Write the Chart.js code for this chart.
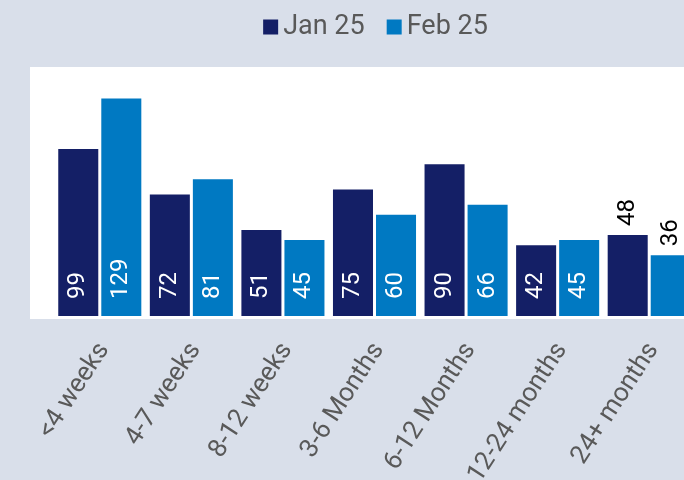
<!DOCTYPE html>
<html><head><meta charset="utf-8">
<script src="https://cdn.jsdelivr.net/npm/chart.js@4.4.0/dist/chart.umd.min.js"></script>
<style>
html,body{margin:0;padding:0;background:#d9dfea;overflow:hidden;width:684px;height:480px}
#wrap{position:relative;width:752px;height:480px}
canvas{display:block}
</style></head><body>
<div id="wrap"><canvas id="c" width="752" height="480"></canvas></div>
<script>
const categories = ['<4 weeks','4-7 weeks','8-12 weeks','3-6 Months','6-12 Months','12-24 months','24+ months'];
const seriesNames = ['Jan 25','Feb 25'];
const jan25 = [99,72,51,75,90,42,48];
const feb25 = [129,81,45,60,66,45,36];
const outsideLabelCategories = ['24+ months'];

const NAVY = '#141f66';
const BLUE = '#0079c2';
const TEXT = '#595959';

const plotBackground = {
  id: 'plotBackground',
  beforeDraw(chart) {
    const {ctx, chartArea} = chart;
    ctx.save();
    ctx.fillStyle = '#d9dfea';
    ctx.fillRect(0, 0, chart.width, chart.height);
    ctx.fillStyle = '#ffffff';
    const top = chartArea.top;
    ctx.fillRect(chartArea.left - 24, top, (chartArea.right + 30) - (chartArea.left - 24), chartArea.bottom + 3 - top);
    ctx.restore();
  }
};

const topLegend = {
  id: 'topLegend',
  afterDraw(chart) {
    const {ctx, chartArea} = chart;
    const box = 15, gapText = 5, gapItem = 22;
    ctx.save();
    ctx.font = '27px Roboto';
    const items = chart.data.datasets.map(ds => ({text: ds.label, color: ds.backgroundColor, w: ctx.measureText(ds.label).width}));
    let total = 0;
    items.forEach((it, i) => { total += box + gapText + it.w + (i < items.length - 1 ? gapItem : 0); });
    let x = (chartArea.left + chartArea.right) / 2 - total / 2 + 1;
    const cy = 27;
    items.forEach(it => {
      ctx.fillStyle = it.color;
      ctx.fillRect(x, cy - 7.5, box, box);
      ctx.fillStyle = TEXT;
      ctx.textBaseline = 'middle';
      ctx.textAlign = 'left';
      ctx.fillText(it.text, x + box + gapText, cy);
      x += box + gapText + it.w + gapItem;
    });
    ctx.restore();
  }
};

const valueLabels = {
  id: 'valueLabels',
  afterDatasetsDraw(chart) {
    const ctx = chart.ctx;
    chart.data.datasets.forEach((ds, di) => {
      const meta = chart.getDatasetMeta(di);
      meta.data.forEach((bar, i) => {
        const v = ds.data[i];
        const outside = outsideLabelCategories.includes(chart.data.labels[i]);
        ctx.save();
        ctx.font = '24px Roboto';
        ctx.fillStyle = outside ? '#000000' : '#ffffff';
        ctx.textBaseline = 'middle';
        ctx.textAlign = 'left';
        const y = outside ? bar.y - 9 : bar.base - 17;
        ctx.translate(bar.x, y);
        ctx.rotate(-Math.PI / 2);
        ctx.fillText(String(v), 0, 0);
        ctx.restore();
      });
    });
  }
};

new Chart(document.getElementById('c'), {
  type: 'bar',
  data: {
    labels: categories,
    datasets: [
      {label: seriesNames[0], data: jan25, backgroundColor: NAVY},
      {label: seriesNames[1], data: feb25, backgroundColor: BLUE}
    ]
  },
  options: {
    responsive: false,
    devicePixelRatio: 1,
    animation: false,
    layout: {padding: {left: 54, right: 57, top: 67, bottom: 0}},
    datasets: {bar: {categoryPercentage: 0.94, barPercentage: 0.93}},
    plugins: {
      legend: {display: false},
      tooltip: {enabled: false}
    },
    scales: {
      x: {
        grid: {display: false, drawTicks: false},
        border: {display: false},
        ticks: {
          color: TEXT,
          font: {family: 'Roboto', size: 26},
          minRotation: 57, maxRotation: 57,
          padding: 21,
          labelOffset: 4
        },
        afterFit(scale) { scale.height = 164; }
      },
      y: {
        display: false,
        min: 0,
        max: 147.6
      }
    }
  },
  plugins: [plotBackground, valueLabels, topLegend]
});
</script>
</body></html>
